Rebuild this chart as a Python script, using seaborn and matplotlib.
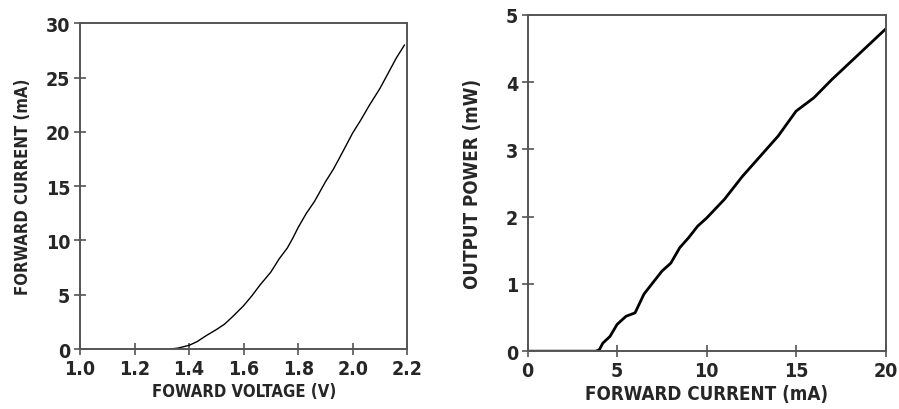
import matplotlib
matplotlib.use("Agg")
import pandas as pd
import seaborn as sns
import matplotlib.pyplot as plt

# forward voltage (V) vs forward current (mA)
voltage = [1.33, 1.36, 1.40, 1.43, 1.46, 1.50, 1.53, 1.56, 1.60, 1.63, 1.66, 1.70, 1.73,
           1.76, 1.78, 1.80, 1.83, 1.86, 1.90, 1.93, 1.96, 2.00, 2.03, 2.06, 2.10, 2.13,
           2.16, 2.19]
current_iv = [0.0, 0.1, 0.35, 0.7, 1.2, 1.8, 2.3, 3.0, 4.0, 4.9, 5.9, 7.1, 8.3,
              9.3, 10.2, 11.2, 12.5, 13.6, 15.4, 16.6, 18.0, 19.9, 21.1, 22.4, 24.0, 25.4,
              26.8, 28.0]

# forward current (mA) vs output power (mW)
current_li = [0, 3.8, 4.0, 4.2, 4.6, 5.0, 5.5, 6.0, 6.5, 7.0, 7.5, 8.0, 8.5, 9.0, 9.5,
              10.0, 11.0, 12.0, 13.0, 14.0, 15.0, 16.0, 17.0, 18.0, 19.0, 20.0]
power = [0, 0, 0.02, 0.12, 0.22, 0.40, 0.52, 0.57, 0.85, 1.02, 1.19, 1.31, 1.54, 1.69, 1.86,
         1.98, 2.26, 2.60, 2.90, 3.20, 3.57, 3.77, 4.04, 4.29, 4.54, 4.79]

iv_df = pd.DataFrame({"v": voltage, "i": current_iv})
li_df = pd.DataFrame({"i": current_li, "p": power})

sns.set_style("white")
plt.rcParams["font.family"] = ["DejaVu Sans"]
plt.rcParams["font.stretch"] = "condensed"

fig = plt.figure(figsize=(8.99, 4.10), dpi=100)
ax1 = fig.add_axes([0.089, 0.146, 0.364, 0.795])
ax2 = fig.add_axes([0.587, 0.141, 0.398, 0.820])

sns.lineplot(data=iv_df, x="v", y="i", ax=ax1, color="black", linewidth=1.0)
sns.lineplot(data=li_df, x="i", y="p", ax=ax2, color="black", linewidth=2.0)

ax1.set_xlim(1.0, 2.2)
ax1.set_ylim(0, 30)
ax1.set_xticks([1.0, 1.2, 1.4, 1.6, 1.8, 2.0, 2.2])
ax1.set_xticklabels(["1.0", "1.2", "1.4", "1.6", "1.8", "2.0", "2.2"])
ax1.set_yticks([0, 5, 10, 15, 20, 25, 30])
ax1.set_xlabel("FOWARD VOLTAGE (V)", fontsize=12, fontweight="bold", labelpad=3)
ax1.set_ylabel("FORWARD CURRENT (mA)", fontsize=12, fontweight="bold", labelpad=10)

ax2.set_xlim(0, 20)
ax2.set_ylim(0, 5)
ax2.set_xticks([0, 5, 10, 15, 20])
ax2.set_yticks([0, 1, 2, 3, 4, 5])
ax2.set_xlabel("FORWARD CURRENT (mA)", fontsize=13.5, fontweight="bold", labelpad=3)
ax2.set_ylabel("OUTPUT POWER (mW)", fontsize=13.5, fontweight="bold", labelpad=17)

for ax in (ax1, ax2):
    for s in ax.spines.values():
        s.set_color("#555555")
        s.set_linewidth(1.4)
    ax.tick_params(axis="both", direction="inout", length=8, width=1.2, color="#555555",
                   labelsize=14, pad=3, left=True, bottom=True)
    for lbl in ax.get_xticklabels() + ax.get_yticklabels():
        lbl.set_fontweight("bold")

fig.savefig("out.png", dpi=100)
